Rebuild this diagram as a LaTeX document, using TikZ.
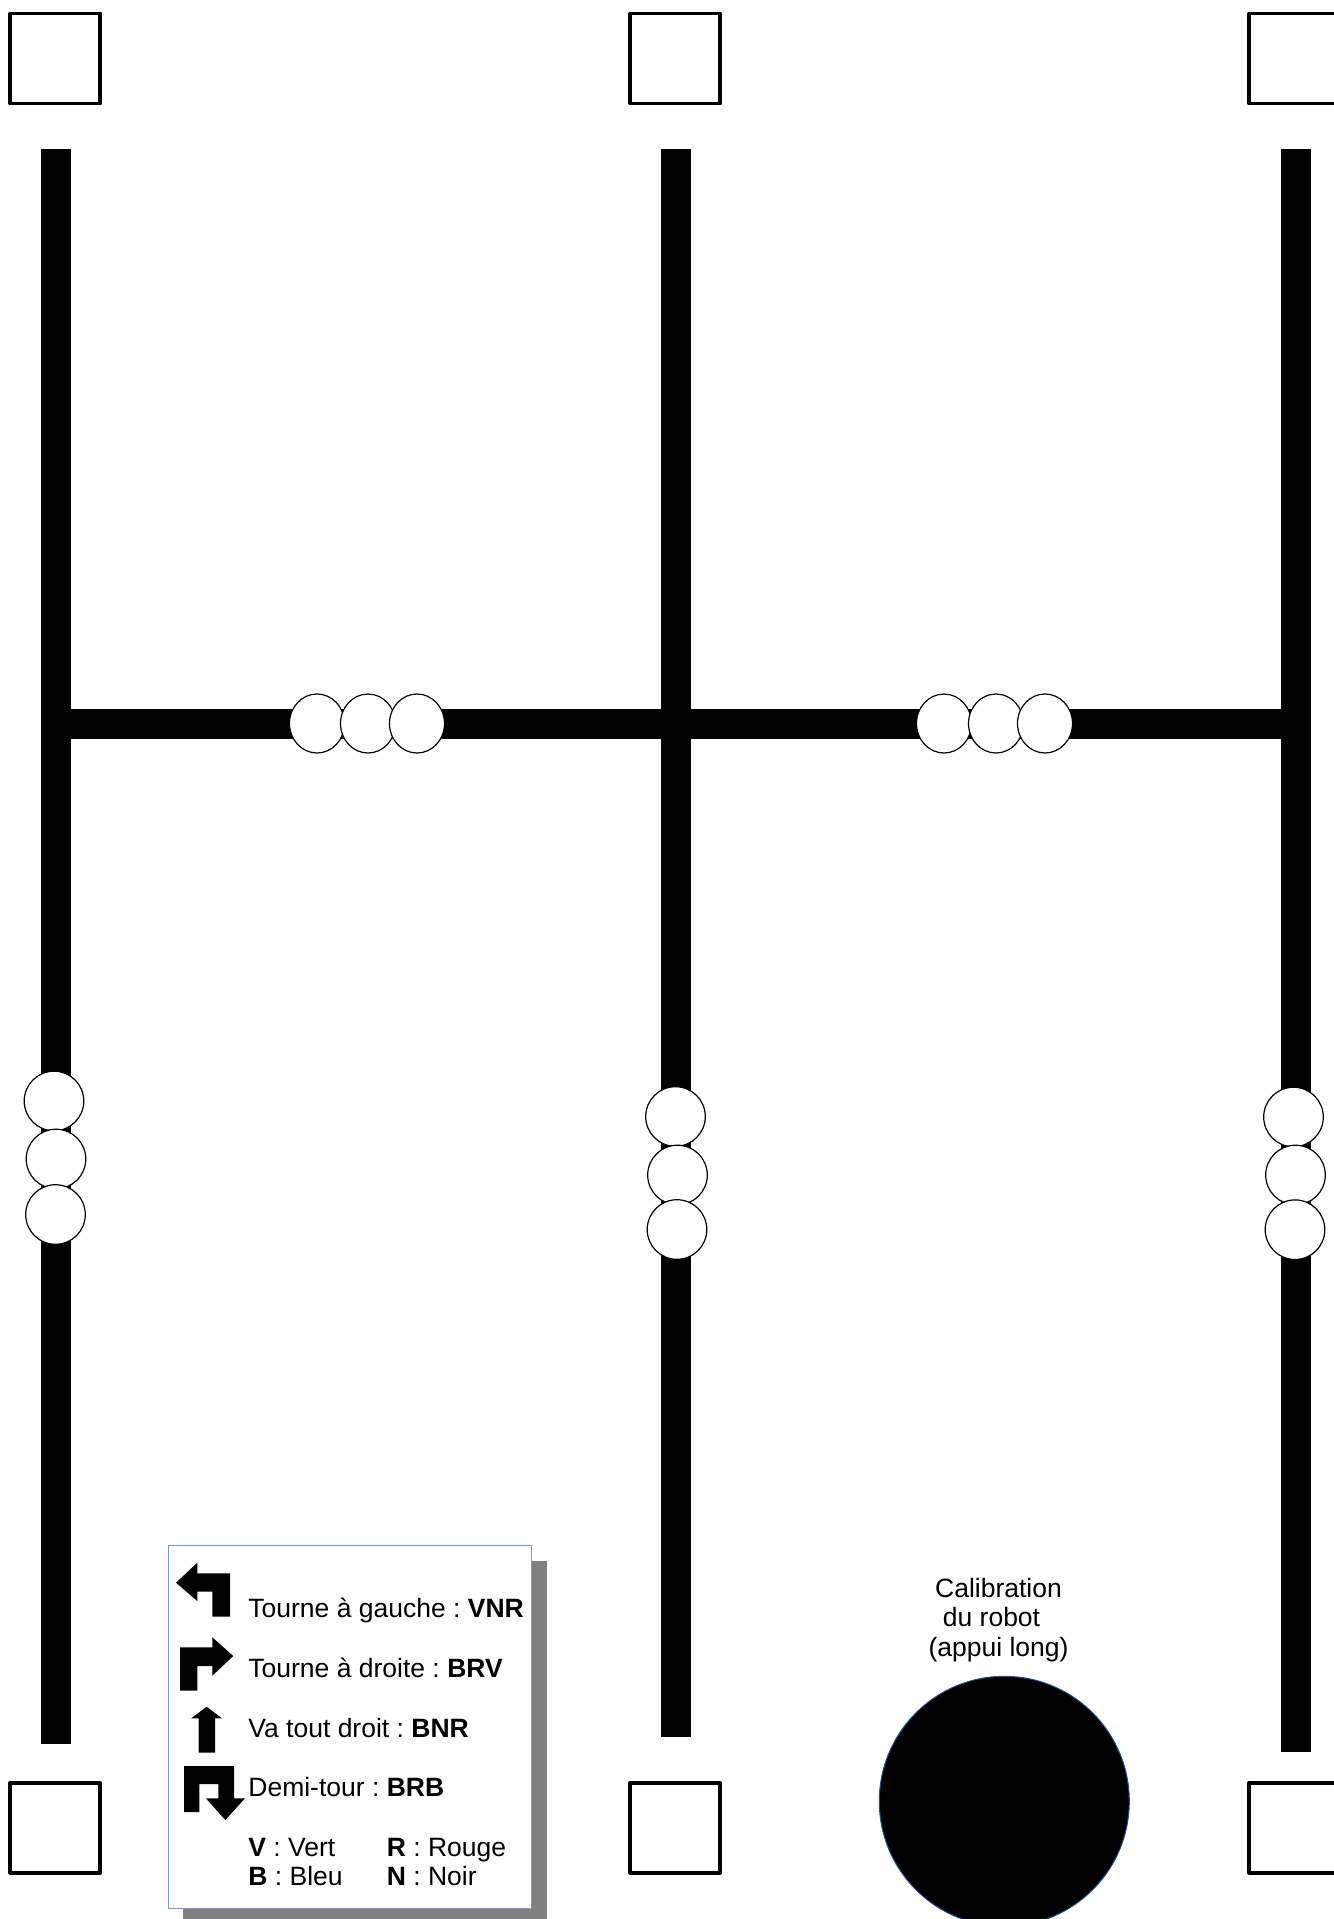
\documentclass[tikz,border=0pt]{standalone}
\usepackage{fontspec}
\setmainfont{Liberation Sans}
\usepackage{xcolor}
\usetikzlibrary{shapes.geometric}
\definecolor{legendblue}{RGB}{114,159,207}
\definecolor{rimblue}{RGB}{30,80,140}
\definecolor{shadowgray}{RGB}{128,128,128}
\tikzset{
  marker/.style={rectangle,draw=black,fill=white,line width=1.9pt,line join=round,minimum size=45pt,inner sep=0pt},
  hdot/.style={ellipse,draw=black,fill=white,line width=0.6pt,minimum width=27.5pt,minimum height=29.5pt,inner sep=0pt},
  vdot/.style={ellipse,draw=black,fill=white,line width=0.6pt,minimum width=29.8pt,minimum height=29.8pt,inner sep=0pt},
  legendtext/.style={anchor=base west,inner sep=0pt,font=\fontsize{13.25}{14.65}\selectfont\frenchspacing}
}

\begin{document}
\begin{tikzpicture}[x=0.5pt,y=-0.5pt]
  \useasboundingbox (0,0) rectangle (1334,1919);

  \fill (40.5,149) rectangle (70.5,1744);
  \fill (660.7,149) rectangle (690.5,1737);
  \fill (1280.5,149) rectangle (1310.5,1752);
  \fill (40.5,708.5) rectangle (1310.5,738.5);

  \foreach \x/\n in {317/a,368/b,417/c,944/d,996/e,1045/f}{
    \node[hdot] (dot\n) at (\x,723.5) {};
  }
  \node[vdot] (left1) at (54,1101) {};
  \node[vdot] (left2) at (56,1159) {};
  \node[vdot] (left3) at (55.5,1214.5) {};
  \node[vdot] (mid1) at (675.5,1116.5) {};
  \node[vdot] (mid2) at (677.5,1175) {};
  \node[vdot] (mid3) at (677,1229.5) {};
  \node[vdot] (right1) at (1293.5,1117) {};
  \node[vdot] (right2) at (1295.5,1175) {};
  \node[vdot] (right3) at (1295,1229.7) {};

  \foreach \x/\n in {55.3/a,675.2/b,1294/c}{
    \node[marker] (top\n) at (\x,58.5) {};
    \node[marker] (bottom\n) at (\x,1827.7) {};
  }

  \fill[shadowgray] (183,1561) rectangle (547,1919);
  \draw[legendblue,fill=white,line width=0.6pt] (168.7,1545.7) rectangle (531.7,1908.7);

  \fill (176,1582.7) -- (197.3,1562.7) -- (197.3,1573.3) -- (230,1573.3) -- (230,1616.7) -- (212.3,1616.7) -- (212.3,1591.7) -- (197.3,1591.7) -- (197.3,1601) -- cycle;
  \fill (180,1690.7) -- (197.3,1690.7) -- (197.3,1666) -- (212.3,1666) -- (212.3,1675.7) -- (233.3,1656) -- (212.3,1637.3) -- (212.3,1647.3) -- (180,1647.3) -- cycle;
  \fill (206.7,1706.7) -- (222,1718.3) -- (215,1718.3) -- (215,1752.7) -- (198.7,1752.7) -- (198.7,1718.3) -- (191.3,1718.3) -- cycle;
  \fill (184,1812) -- (199.3,1812) -- (199.3,1784) -- (218.3,1784) -- (218.3,1798.3) -- (206,1798.3) -- (225.3,1820) -- (245,1798.3) -- (234,1798.3) -- (234,1766) -- (184,1766) -- cycle;

  \node[legendtext] (gauche) at (248,1617.5) {Tourne à gauche : \textbf{VNR}};
  \node[legendtext] (droite) at (248,1677.5) {Tourne à droite : \textbf{BRV}};
  \node[legendtext] (droit) at (248,1737) {Va tout droit : \textbf{BNR}};
  \node[legendtext] (demi) at (248,1796) {Demi-tour : \textbf{BRB}};
  \node[legendtext] (vert) at (248,1856) {\textbf{V} : Vert};
  \node[legendtext] (bleu) at (248,1885) {\textbf{B} : Bleu};
  \node[legendtext] (rouge) at (386.5,1856) {\textbf{R} : Rouge};
  \node[legendtext] (noir) at (386.5,1885) {\textbf{N} : Noir};

  \node[legendtext,anchor=base,align=center] (calib) at (998.5,1656) {Calibration\\du robot\hspace*{7pt}\mbox{}\\(appui long)};
  \node[circle,draw=rimblue,fill=black,line width=0.5pt,minimum size=125pt,inner sep=0pt] (button) at (1004.3,1801.3) {};
\end{tikzpicture}
\end{document}
